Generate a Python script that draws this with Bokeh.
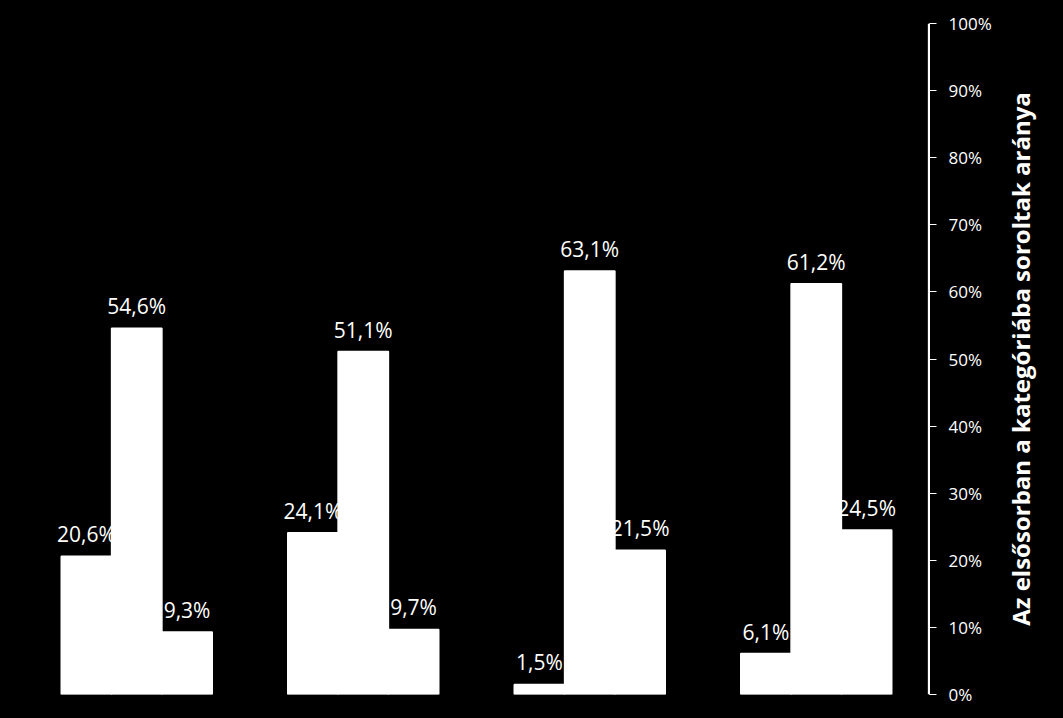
import math
from jinja2 import Template
from bokeh.plotting import figure
from bokeh.layouts import row
from bokeh.models import ColumnDataSource, FactorRange, FixedTicker, CustomJSTickFormatter, Span
from bokeh.transform import dodge
from bokeh.core.properties import value
from bokeh.embed import file_html
from bokeh.resources import INLINE

# Four groups of three series (shares in percent)
groups = ["1", "2", "3", "4"]
series_a = [20.6, 24.1, 1.5, 6.1]
series_b = [54.6, 51.1, 63.1, 61.2]
series_c = [9.3, 9.7, 21.5, 24.5]
y_ticks = [0, 10, 20, 30, 40, 50, 60, 70, 80, 90, 100]
axis_title = "Az elsősorban a kategóriába soroltak aránya"


def fmt(v):
    return f"{v:.1f}".replace(".", ",") + "%"


src = ColumnDataSource(dict(
    g=groups,
    a=series_a, b=series_b, c=series_c,
    la=[fmt(v) for v in series_a],
    lb=[fmt(v) for v in series_b],
    lc=[fmt(v) for v in series_c],
))

p = figure(
    width=1003, height=718,
    x_range=FactorRange(*groups, range_padding=0),
    y_range=(0, 100),
    y_axis_location="right",
    output_backend="svg", toolbar_location=None,
    background_fill_color="black", border_fill_color="black",
    min_border_left=23, min_border_right=74, min_border_top=23, min_border_bottom=24,
)
p.outline_line_color = None
p.grid.visible = False
p.xaxis.visible = False

bw = 0.2222
offsets = [-bw, 0.0, bw]
label_font = value("Open Sans")

# value labels first so the neighbouring bars overlap them
for col, lab, off in zip(["a", "b", "c"], ["la", "lb", "lc"], offsets):
    p.text(x=dodge("g", off, range=p.x_range), y=col, text=lab, source=src,
           text_color="white", text_font=label_font, text_font_size="21px",
           text_align="center", text_baseline="bottom", y_offset=-8)

for col, off in zip(["a", "b", "c"], offsets):
    p.vbar(x=dodge("g", off, range=p.x_range), top=col, width=bw, source=src,
           fill_color="white", line_color="white", line_width=1.5)

ax = p.yaxis[0]
ax.ticker = FixedTicker(ticks=y_ticks)
ax.formatter = CustomJSTickFormatter(code="return tick + '%';")
ax.axis_line_color = "white"
ax.axis_line_width = 1
ax.major_tick_line_color = "white"
ax.major_tick_out = 7
ax.major_tick_in = 0
ax.minor_tick_line_color = None
ax.major_label_text_color = "white"
ax.major_label_text_font = "Open Sans"
ax.major_label_text_font_size = "17px"
ax.major_label_standoff = 12

# axis rule just inside the right edge of the plotting area
p.add_layout(Span(location=len(groups) - 0.004, dimension="height",
                  line_color="white", line_width=1.5, level="overlay"))

# narrow strip holding the vertical axis title (reads bottom to top)
side = figure(
    width=60, height=718, x_range=(0, 1), y_range=(0, 100),
    output_backend="svg", toolbar_location=None,
    background_fill_color="black", border_fill_color="black",
    min_border_left=0, min_border_right=0, min_border_top=23, min_border_bottom=24,
)
side.outline_line_color = None
side.axis.visible = False
side.grid.visible = False
side.text(x=[0.28], y=[50], text=[axis_title], angle=math.pi / 2,
          text_color="white", text_font=value("Open Sans"), text_font_style="bold",
          text_font_size="24px", text_align="center", text_baseline="middle")

layout = row(p, side, spacing=0)

page = Template(
    "{% extends base %}\n"
    "{% block postamble %}<style>html, body { background: #000; }</style>{% endblock %}"
)
open("out.html", "w").write(file_html(layout, INLINE, template=page))
